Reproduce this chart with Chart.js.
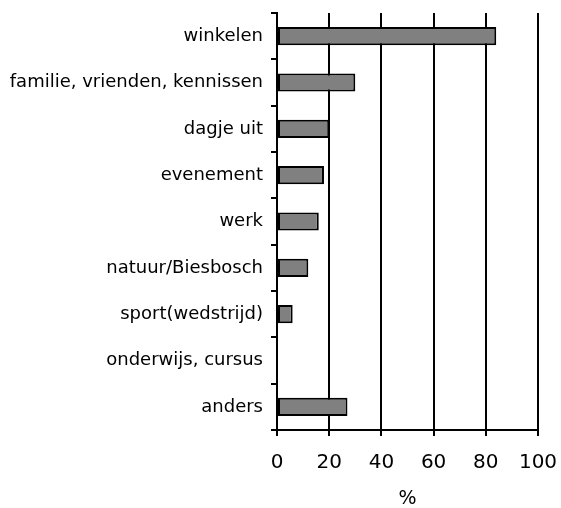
<!DOCTYPE html>
<html>
<head>
<meta charset="utf-8">
<script src="https://cdn.jsdelivr.net/npm/chart.js@4/dist/chart.umd.min.js"></script>
<style>
    html, body { margin: 0; padding: 0; background: #fff; }
    #wrap { width: 561px; height: 508px; position: relative; }
</style>
</head>
<body>
<div id="wrap"><canvas id="chart"></canvas></div>
<script>
// Categories and values (percent)
const categories = [
    'winkelen',
    'familie, vrienden, kennissen',
    'dagje uit',
    'evenement',
    'werk',
    'natuur/Biesbosch',
    'sport(wedstrijd)',
    'onderwijs, cursus',
    'anders'
];
const percentages = [84, 30, 20, 18, 16, 12, 6, 0, 27];
const xTicks = [0, 20, 40, 60, 80, 100];
const axisTitle = '%';

document.addEventListener('DOMContentLoaded', function() {
    const ctx = document.getElementById('chart').getContext('2d');
    new Chart(ctx, {
        type: 'bar',
        data: {
            labels: categories,
            datasets: [{
                data: percentages,
                backgroundColor: '#808080',
                borderColor: '#000000',
                borderWidth: 2,
                borderSkipped: false,
                barPercentage: 0.8,
                categoryPercentage: 0.49
            }]
        },
        options: {
            indexAxis: 'y',
            responsive: true,
            maintainAspectRatio: false,
            animation: false,
            layout: {
                padding: { top: 13, right: 23, bottom: 0, left: 0 }
            },
            plugins: {
                legend: { display: false },
                tooltip: { enabled: false }
            },
            scales: {
                x: {
                    min: xTicks[0],
                    max: xTicks[xTicks.length - 1],
                    afterBuildTicks: function(scale) {
                        scale.ticks = xTicks.map(v => ({ value: v }));
                    },
                    afterFit: function(scale) {
                        scale.height = 78;
                        // let the "100" label hang over the right edge
                        scale.paddingLeft = 0;
                        scale.paddingRight = 0;
                    },
                    ticks: {
                        color: '#000',
                        padding: 15,
                        font: { family: 'DejaVu Sans', size: 20 },
                        maxRotation: 0
                    },
                    grid: {
                        color: '#000',
                        lineWidth: 2,
                        tickLength: 6,
                        drawTicks: true
                    },
                    border: { display: true, color: '#000', width: 2 },
                    title: {
                        display: true,
                        text: axisTitle,
                        color: '#000',
                        font: { family: 'DejaVu Sans', size: 19 },
                        padding: { top: 12, bottom: -2 }
                    }
                },
                y: {
                    afterFit: function(scale) {
                        scale.width = 277;
                        scale.paddingTop = 0;
                        scale.paddingBottom = 0;
                    },
                    ticks: {
                        color: '#000',
                        padding: 8,
                        font: { family: 'DejaVu Sans', size: 18 }
                    },
                    grid: {
                        offset: true,
                        drawOnChartArea: false,
                        color: '#000',
                        lineWidth: 2,
                        tickLength: 6
                    },
                    border: { display: true, color: '#000', width: 2 }
                }
            }
        }
    });
});
</script>
</body>
</html>
